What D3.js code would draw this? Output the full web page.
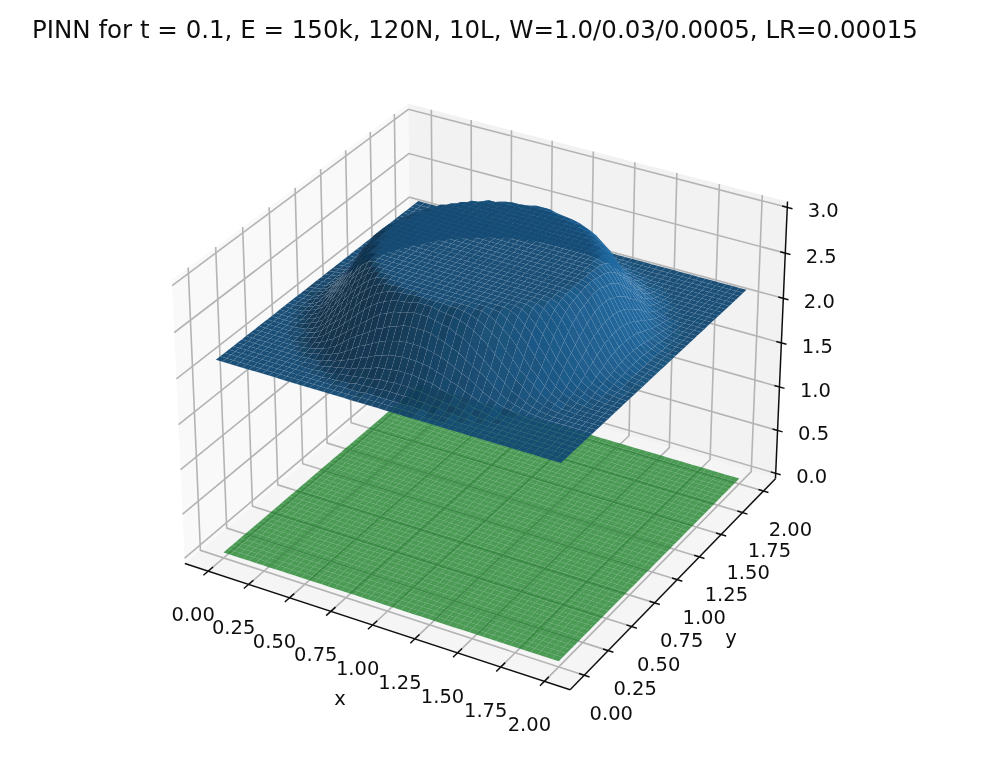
<!DOCTYPE html>
<html>
<head>
<meta charset="utf-8">
<script src="https://cdn.jsdelivr.net/npm/d3@7"></script>
<style>
  html, body { margin: 0; background: #fff; }
  text { font-family: "DejaVu Sans", sans-serif; fill: #111; }
</style>
</head>
<body>
<div id="chart"></div>
<script>
const titleText = "PINN for t = 0.1, E = 150k, 120N, 10L, W=1.0/0.03/0.0005, LR=0.00015";
const xTicks = [0, 0.25, 0.5, 0.75, 1, 1.25, 1.5, 1.75, 2];
const yTicks = [0, 0.25, 0.5, 0.75, 1, 1.25, 1.5, 1.75, 2];
const zTicks = [0, 0.5, 1, 1.5, 2, 2.5, 3];
const xLimits = [-0.1458, 2.1458];
const yLimits = [-0.1458, 2.1458];
const zLimits = [-0.0625, 3.0625];

// blue surface height x100, one quadrant: first row is
// the outer edge of the domain, last row goes through the centre (1, 1)
const heightQuadrant = [
  [215,215,215,215,215,215,215,215,215,215,215,215,215,215,215,215,215,215,215,215,215,215,215,215,215,215],
  [215,215,215,215,215,215,215,215,215,215,215,215,215,215,215,215,215,215,215,215,215,216,216,216,216,216],
  [215,215,215,215,215,215,215,215,215,215,215,215,215,215,215,215,215,216,216,216,216,217,217,217,217,217],
  [215,215,215,215,215,215,215,215,215,215,215,215,215,215,215,216,216,217,217,219,219,220,220,221,221,221],
  [215,215,215,215,215,215,215,215,215,215,215,215,215,216,216,217,219,220,221,222,223,224,226,226,227,227],
  [215,215,215,215,215,215,215,215,215,215,215,216,216,217,219,220,222,223,226,228,230,233,234,235,236,236],
  [215,215,215,215,215,215,215,215,215,215,216,216,217,220,221,224,227,230,234,236,240,242,245,246,247,247],
  [215,215,215,215,215,215,215,215,215,216,217,219,220,223,226,230,235,240,243,247,251,254,256,258,259,259],
  [215,215,215,215,215,215,215,215,216,217,219,221,224,228,234,240,245,249,254,259,262,266,268,271,272,272],
  [215,215,215,215,215,215,215,216,217,219,222,226,230,236,242,248,254,260,266,271,274,278,279,281,283,283],
  [215,215,215,215,215,215,216,217,219,222,226,233,238,245,252,259,266,272,277,281,284,286,287,288,290,290],
  [215,215,215,215,215,216,216,219,221,226,233,239,245,254,261,270,275,281,285,288,290,291,291,292,292,292],
  [215,215,215,215,215,216,217,220,224,230,238,245,254,264,272,278,284,288,291,291,292,292,292,292,292,292],
  [215,215,215,215,216,217,220,223,228,236,245,254,264,272,279,285,290,291,292,292,292,292,292,292,292,292],
  [215,215,215,215,216,219,221,226,234,242,252,261,272,279,286,290,292,292,292,292,292,292,292,292,292,292],
  [215,215,215,216,217,220,224,230,240,248,259,270,278,285,290,292,292,292,292,292,292,292,292,292,292,292],
  [215,215,215,216,219,222,227,235,245,254,266,275,284,290,292,292,292,292,292,292,292,292,292,292,292,292],
  [215,215,216,217,220,223,230,240,249,260,272,281,288,291,292,292,292,292,292,292,292,292,292,292,292,292],
  [215,215,216,217,221,226,234,243,254,266,277,285,291,292,292,292,292,292,292,292,292,292,292,292,292,292],
  [215,215,216,219,222,228,236,247,259,271,281,288,291,292,292,292,292,292,292,292,292,292,292,292,292,292],
  [215,215,216,219,223,230,240,251,262,274,284,290,292,292,292,292,292,292,292,292,292,292,292,292,292,292],
  [215,216,217,220,224,233,242,254,266,278,286,291,292,292,292,292,292,292,292,292,292,292,292,292,292,292],
  [215,216,217,220,226,234,245,256,268,279,287,291,292,292,292,292,292,292,292,292,292,292,292,292,292,292],
  [215,216,217,221,226,235,246,258,271,281,288,292,292,292,292,292,292,292,292,292,292,292,292,292,292,292],
  [215,216,217,221,227,236,247,259,272,283,290,292,292,292,292,292,292,292,292,292,292,292,292,292,292,292],
  [215,216,217,221,227,236,247,259,272,283,290,292,292,292,292,292,292,292,292,292,292,292,292,292,292,292]
];

const width = 989, height = 758;
const boxHalf = 0.5715, boxHalfZ = 0.415, camDist = 10;

const worldX = d3.scaleLinear().domain(xLimits).range([-boxHalf, boxHalf]);
const worldY = d3.scaleLinear().domain(yLimits).range([-boxHalf, boxHalf]);
const worldZ = d3.scaleLinear().domain(zLimits).range([-boxHalfZ, boxHalfZ]);
const screenX = d3.scaleLinear().domain([-0.1, 0.1]).range([485.4 - 386, 485.4 + 386]);
const screenY = d3.scaleLinear().domain([-0.1, 0.1]).range([383 + 390, 383 - 390]);

// camera of a default mplot3d view, elev 30, azim -60
const camU = [0.866, 0.5, 0], camV = [-0.25, 0.433, 0.866], camN = [0.433, -0.75, 0.5];
const dot = (a, b) => a[0] * b[0] + a[1] * b[1] + a[2] * b[2];

function depthOf(x, y, z) {
  return dot([worldX(x), worldY(y), worldZ(z)], camN);
}
function project(x, y, z) {
  const d = [worldX(x), worldY(y), worldZ(z)];
  const w = camDist - dot(d, camN);
  return [screenX(dot(d, camU) / w), screenY(dot(d, camV) / w)];
}
const line3d = pts => "M" + pts.map(p => project(p[0], p[1], p[2]).join(",")).join("L");

const svg = d3.select("#chart").append("svg")
  .attr("width", width).attr("height", height)
  .style("display", "block");

// the reference is a slightly soft upscaled screenshot
svg.append("defs").append("filter")
  .attr("id", "soft")
  .attr("x", 0).attr("y", 0).attr("width", 1).attr("height", 1)
  .append("feGaussianBlur").attr("stdDeviation", 0.6);

const root = svg.append("g").attr("filter", "url(#soft)");
root.append("rect").attr("width", width).attr("height", height).attr("fill", "#fff");

const [x0, x1] = xLimits, [y0, y1] = yLimits, [z0, z1] = zLimits;

// panes
const panes = [
  { pts: [[x0, y0, z0], [x0, y1, z0], [x0, y1, z1], [x0, y0, z1]], fill: "#f9f9f9" },
  { pts: [[x0, y1, z0], [x1, y1, z0], [x1, y1, z1], [x0, y1, z1]], fill: "#f2f2f2" },
  { pts: [[x0, y0, z0], [x1, y0, z0], [x1, y1, z0], [x0, y1, z0]], fill: "#f5f5f5" }
];
root.selectAll(".pane").data(panes).enter().append("path")
  .attr("class", "pane")
  .attr("d", d => line3d(d.pts) + "Z")
  .attr("fill", d => d.fill);

// grid lines
const gridColor = "#b4b4b4", gridWidth = 1.6;
const gridPaths = [
  ...xTicks.map(t => [[t, y0, z0], [t, y1, z0], [t, y1, z1]]),
  ...yTicks.map(t => [[x1, t, z0], [x0, t, z0], [x0, t, z1]]),
  ...zTicks.map(t => [[x0, y0, t], [x0, y1, t], [x1, y1, t]])
];
root.selectAll(".grid").data(gridPaths).enter().append("path")
  .attr("class", "grid")
  .attr("d", line3d)
  .attr("fill", "none")
  .attr("stroke", gridColor)
  .attr("stroke-width", gridWidth);

// axis lines and ticks
const axisPaths = [
  [[x0, y0, z0], [x1, y0, z0]],
  [[x1, y0, z0], [x1, y1, z0]],
  [[x1, y1, z0], [x1, y1, z1]]
];
const tickPaths = [
  ...xTicks.map(t => [[t, y0 + 0.045, z0], [t, y0 - 0.045, z0]]),
  ...yTicks.map(t => [[x1 - 0.03, t, z0], [x1 + 0.03, t, z0]]),
  ...zTicks.map(t => [[x1 - 0.03, y1, t], [x1 + 0.03, y1, t]])
];
root.selectAll(".axis").data(axisPaths.concat(tickPaths)).enter().append("path")
  .attr("class", "axis")
  .attr("d", line3d)
  .attr("fill", "none")
  .attr("stroke", "#111")
  .attr("stroke-width", 1.5);

// light of plot_surface, the mesh normals come out pointing down here.
// flat cells get 0.6, slopes away from the light stay dark, lit slopes are damped
const light = [-0.667, -0.667, 0.333];
function shade(p) {
  const a = [p[2][0] - p[0][0], p[2][1] - p[0][1], p[2][2] - p[0][2]];
  const b = [p[3][0] - p[1][0], p[3][1] - p[1][1], p[3][2] - p[1][2]];
  const n = [a[1] * b[2] - a[2] * b[1], a[2] * b[0] - a[0] * b[2], a[0] * b[1] - a[1] * b[0]];
  const len = Math.hypot(n[0], n[1], n[2]) || 1;
  const s = 0.3 + 0.7 * (dot(n, light) / len + 1) / 2 - 0.533;
  return 0.6 + (s > 0 ? s * 0.6 : s);
}

// quads of one surface, sorted far to near
function buildQuads(values, steps) {
  const pos = d3.scaleLinear().domain([0, steps]).range([0, 2]);
  const quads = [];
  for (let i = 0; i < steps; i++) {
    for (let j = 0; j < steps; j++) {
      const pts = [
        [pos(i), pos(j), values[i][j]],
        [pos(i), pos(j + 1), values[i][j + 1]],
        [pos(i + 1), pos(j + 1), values[i + 1][j + 1]],
        [pos(i + 1), pos(j), values[i + 1][j]]
      ];
      quads.push({ pts, depth: d3.mean(pts, p => depthOf(p[0], p[1], p[2])), shade: shade(pts) });
    }
  }
  return quads.sort((a, b) => d3.ascending(a.depth, b.depth));
}

function drawSurface(cls, values, steps, base, opacity, meshOpacity) {
  root.selectAll("." + cls).data(buildQuads(values, steps)).enter().append("path")
    .attr("class", cls)
    .attr("d", d => line3d(d.pts) + "Z")
    .attr("fill", d => d3.rgb(base[0] * d.shade, base[1] * d.shade, base[2] * d.shade))
    .attr("fill-opacity", opacity)
    .attr("stroke", "#dcebf5")
    .attr("stroke-opacity", meshOpacity)
    .attr("stroke-width", 0.6);
}

const steps = (heightQuadrant.length - 1) * 2;
const fold = k => (k <= steps / 2 ? k : steps - k);
const blueHeights = d3.range(steps + 1).map(i =>
  d3.range(steps + 1).map(j => heightQuadrant[fold(i)][fold(j)] / 100));
const greenHeights = d3.range(steps + 1).map(() => d3.range(steps + 1).map(() => 0));

drawSurface("green", greenHeights, steps, [9, 197, 33], 0.71, 0.06);
drawSurface("blue", blueHeights, steps, [34, 124, 192], 0.97, 0.06);

// tick labels
const tickFont = 19.5;
root.selectAll(".xlabel").data(xTicks).enter().append("text")
  .attr("class", "xlabel")
  .attr("font-size", tickFont)
  .attr("text-anchor", "middle")
  .attr("x", d => project(d, y0, z0)[0] - 15)
  .attr("y", d => project(d, y0, z0)[1] + 50)
  .text(d => d.toFixed(2));
root.selectAll(".ylabel").data(yTicks).enter().append("text")
  .attr("class", "ylabel")
  .attr("font-size", tickFont)
  .attr("text-anchor", "middle")
  .attr("x", d => project(x1, d, z0)[0] + 27)
  .attr("y", d => project(x1, d, z0)[1] + 44.5)
  .text(d => d.toFixed(2));
root.selectAll(".zlabel").data(zTicks).enter().append("text")
  .attr("class", "zlabel")
  .attr("font-size", tickFont)
  .attr("text-anchor", "middle")
  .attr("x", d => project(x1, y1, d)[0] + 36)
  .attr("y", d => project(x1, y1, d)[1] + 10)
  .text(d => d.toFixed(1));

root.append("text").attr("x", 340).attr("y", 705).attr("font-size", tickFont)
  .attr("text-anchor", "middle").text("x");
root.append("text").attr("x", 731).attr("y", 644).attr("font-size", tickFont)
  .attr("text-anchor", "middle").text("y");
root.append("text").attr("x", 32).attr("y", 38).attr("font-size", 24.5).text(titleText);
</script>
</body>
</html>
